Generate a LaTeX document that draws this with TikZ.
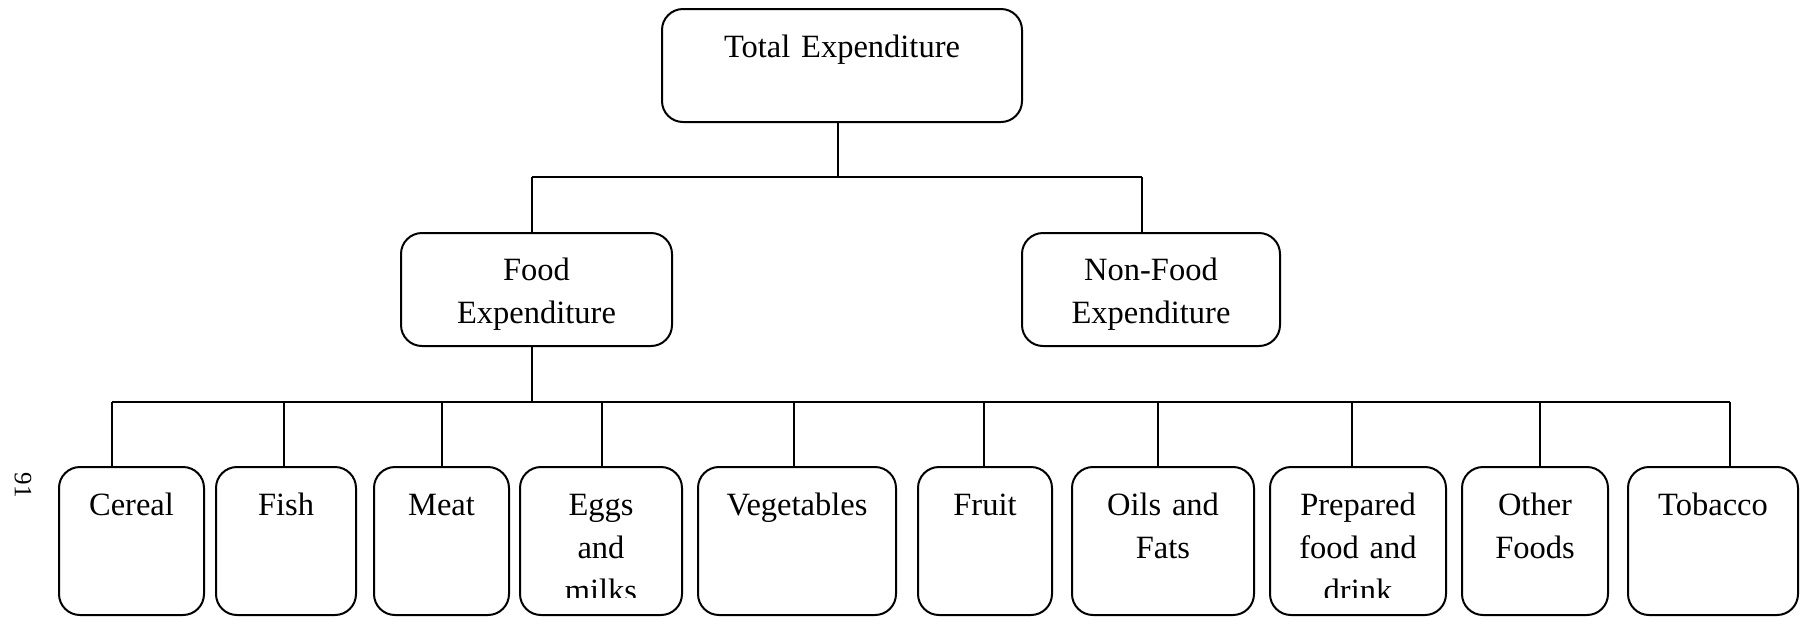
\documentclass[tikz,border=0pt]{standalone}
\usepackage{fontspec}
\setmainfont{Liberation Serif}
\usetikzlibrary{fit}
\tikzset{
  x=0.4pt, y=-0.4pt,
  box/.style={draw, rounded corners=8.4pt, inner sep=0pt, outer sep=0pt, line width=0.8pt},
  txt/.style={anchor=base, inner sep=0pt, align=center, font=\fontsize{13}{17.2}\selectfont},
  link/.style={line width=0.7pt},
}
\begin{document}
\begin{tikzpicture}
\useasboundingbox (0,0) rectangle (1800,616);
% boxes
\node[box, fit={(662,9) (1022,122)}] (total) {};
\node[box, fit={(401,233) (672,346)}] (food) {};
\node[box, fit={(1022,233) (1280,346)}] (nonfood) {};
\node[box, fit={(59,467) (204,615)}] (cereal) {};
\node[box, fit={(216,467) (356,615)}] (fish) {};
\node[box, fit={(374,467) (509,615)}] (meat) {};
\node[box, fit={(520,467) (682,615)}] (eggs) {};
\node[box, fit={(698,467) (896,615)}] (veg) {};
\node[box, fit={(918,467) (1052,615)}] (fruit) {};
\node[box, fit={(1072,467) (1254,615)}] (oils) {};
\node[box, fit={(1270,467) (1446,615)}] (prep) {};
\node[box, fit={(1462,467) (1608,615)}] (other) {};
\node[box, fit={(1628,467) (1798,615)}] (tobacco) {};
% texts
\node[txt, text width=140pt] (total-t) at ([yshift=-19.2pt]total.north) {Total Expenditure};
\node[txt, text width=105pt] (food-t) at ([yshift=-18.8pt]food.north) {Food\\Expenditure};
\node[txt, text width=100pt] (nonfood-t) at ([yshift=-18.8pt]nonfood.north) {Non-Food\\Expenditure};
\begin{scope}
\clip (0,0) rectangle (1800,597);
\node[txt, text width=56pt] (cereal-t) at ([yshift=-19.2pt]cereal.north) {Cereal};
\node[txt, text width=54pt] (fish-t) at ([yshift=-19.2pt]fish.north) {Fish};
\node[txt, text width=52pt] (meat-t) at ([yshift=-19.2pt]meat.north) {Meat};
\node[txt, text width=62pt] (eggs-t) at ([yshift=-19.2pt]eggs.north) {Eggs\\and\\milks};
\node[txt, text width=78pt] (veg-t) at ([yshift=-19.2pt]veg.north) {Vegetables};
\node[txt, text width=52pt] (fruit-t) at ([yshift=-19.2pt]fruit.north) {Fruit};
\node[txt, text width=71pt] (oils-t) at ([yshift=-19.2pt]oils.north) {Oils and\\Fats};
\node[txt, text width=69pt] (prep-t) at ([yshift=-19.2pt]prep.north) {Prepared\\food and\\drink};
\node[txt, text width=57pt] (other-t) at ([yshift=-19.2pt]other.north) {Other\\Foods};
\node[txt, text width=66pt] (tobacco-t) at ([yshift=-19.2pt]tobacco.north) {Tobacco};
\end{scope}
% page number
\node[rotate=-90, inner sep=0pt, font=\fontsize{10}{12}\selectfont] (pagenum) at (23,485) {91};
% bus coordinates
\coordinate (tb) at (838,177);
\coordinate (tbl) at (532,177);
\coordinate (tbr) at (1142,177);
\coordinate (fb) at (532,402);
\coordinate (fbl) at (112,402);
\coordinate (fbr) at (1730,402);
% connectors level 1
\draw[link] (tb |- total.south) -- (tb);
\draw[link] (tbl) -- (tbr);
\draw[link] (tbl) -- (tbl |- food.north);
\draw[link] (tbr) -- (tbr |- nonfood.north);
% connectors level 2
\draw[link] (fb |- food.south) -- (fb);
\draw[link] (fbl) -- (fbr);
\foreach \px/\nm in {112/cereal, 284/fish, 442/meat, 602/eggs, 794/veg, 984/fruit, 1158/oils, 1352/prep, 1540/other, 1730/tobacco}{
  \draw[link] (\px,402) -- (\px,402 |- \nm.north);
}
\end{tikzpicture}
\end{document}
